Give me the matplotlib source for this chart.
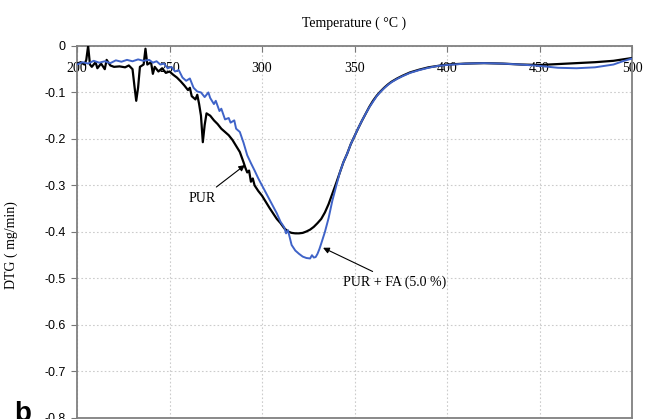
import matplotlib
matplotlib.use("Agg")
import matplotlib.pyplot as plt

# PUR (black)
pur_t = [200, 202, 204, 205, 206, 207, 208, 210, 211, 213, 215, 216, 218, 220, 223, 226, 228,
         230, 231, 232, 233, 234, 236, 237, 238, 240, 241, 242, 244, 246, 248, 250, 252, 254,
         256, 258, 260, 261, 262, 264, 265, 266, 267, 268, 269, 270, 272, 274, 276, 278, 280,
         282, 284, 286, 288, 290, 291, 292, 293, 294, 295, 296, 298, 300, 302, 304, 306, 308,
         310, 312, 314, 316, 318, 320, 322, 324, 326, 328, 330, 332, 334, 336, 338, 340, 342,
         344, 346, 348, 350, 352, 354, 356, 358, 360, 362, 364, 366, 368, 370, 373, 376, 380,
         385, 390, 395, 400, 410, 420, 430, 440, 450, 460, 470, 480, 490, 495, 500]
pur_dtg = [-0.038, -0.035, -0.040, -0.030, 0.000, -0.040, -0.045, -0.035, -0.048, -0.038, -0.050,
           -0.030, -0.042, -0.045, -0.044, -0.046, -0.042, -0.050, -0.085, -0.118, -0.090, -0.045,
           -0.040, -0.006, -0.040, -0.035, -0.060, -0.045, -0.055, -0.048, -0.058, -0.055, -0.062,
           -0.068, -0.076, -0.085, -0.095, -0.090, -0.108, -0.115, -0.105, -0.125, -0.150, -0.207,
           -0.170, -0.145, -0.150, -0.160, -0.168, -0.178, -0.185, -0.192, -0.202, -0.215, -0.228,
           -0.250, -0.262, -0.272, -0.268, -0.292, -0.285, -0.300, -0.312, -0.322, -0.335, -0.348,
           -0.360, -0.372, -0.381, -0.392, -0.399, -0.402, -0.403, -0.403, -0.402, -0.399, -0.395,
           -0.389, -0.381, -0.372, -0.358, -0.340, -0.318, -0.296, -0.273, -0.250, -0.232, -0.211,
           -0.194, -0.177, -0.161, -0.146, -0.131, -0.118, -0.107, -0.098, -0.090, -0.083, -0.077,
           -0.070, -0.064, -0.057, -0.051, -0.046, -0.043, -0.040, -0.038, -0.037, -0.038, -0.040,
           -0.041, -0.039, -0.037, -0.035, -0.032, -0.029, -0.026]

# PUR + FA (5.0 %) (blue)
fa_t = [200, 203, 206, 209, 212, 215, 218, 221, 224, 227, 230, 233, 236, 239, 241, 243, 245, 247,
        249, 251, 253, 255, 257, 259, 261, 263, 265, 267, 269, 271, 272, 274, 275, 277, 278, 280,
        282, 283, 285, 286, 288, 290, 292, 294, 296, 298, 300, 302, 304, 306, 308, 310, 312, 313,
        314, 316, 318, 320, 322, 324, 326, 327, 328, 329, 330, 331, 332, 334, 336, 338, 340,
        342, 344, 346, 348, 350, 352, 354, 356, 358, 360, 362, 364, 366, 368, 370, 373, 376, 380,
        385, 390, 395, 400, 410, 420, 430, 440, 450, 460, 470, 480, 490, 495, 500]
fa_dtg = [-0.040, -0.035, -0.038, -0.032, -0.036, -0.033, -0.037, -0.031, -0.034, -0.030, -0.033,
          -0.029, -0.032, -0.030, -0.036, -0.033, -0.040, -0.038, -0.048, -0.045, -0.055, -0.052,
          -0.068, -0.075, -0.070, -0.090, -0.098, -0.100, -0.110, -0.100, -0.112, -0.125, -0.118,
          -0.140, -0.135, -0.158, -0.155, -0.165, -0.160, -0.178, -0.185, -0.208, -0.235, -0.252,
          -0.268, -0.285, -0.300, -0.315, -0.330, -0.345, -0.360, -0.378, -0.390, -0.403, -0.396,
          -0.428, -0.440, -0.447, -0.453, -0.456, -0.457, -0.450, -0.455, -0.454, -0.447, -0.437,
          -0.425, -0.400, -0.370, -0.333, -0.303, -0.273, -0.250, -0.232, -0.211, -0.194,
          -0.177, -0.161, -0.146, -0.132, -0.120, -0.108, -0.099, -0.091, -0.084, -0.078, -0.071,
          -0.065, -0.058, -0.052, -0.047, -0.043, -0.041, -0.038, -0.037, -0.038, -0.040, -0.043,
          -0.047, -0.048, -0.046, -0.040, -0.033, -0.027]

x_ticks = [200, 250, 300, 350, 400, 450, 500]
y_ticks = [0, -0.1, -0.2, -0.3, -0.4, -0.5, -0.6, -0.7, -0.8]
y_labels = ['0', '-0.1', '-0.2', '-0.3', '-0.4', '-0.5', '-0.6', '-0.7', '-0.8']

serif = 'Liberation Serif'
sans = 'Liberation Sans'

fig = plt.figure(figsize=(6.5, 4.19), dpi=100)
ax = fig.add_axes([0.1185, 0.0024, 0.8538, 0.888])

ax.plot(pur_t, pur_dtg, color='black', lw=1.6, zorder=3)
ax.plot(fa_t, fa_dtg, color='#3f63c8', lw=1.4, zorder=4)

ax.set_xlim(200, 500)
ax.set_ylim(-0.8, 0)
ax.set_xticks(x_ticks)
ax.set_yticks(y_ticks)
ax.set_yticklabels(y_labels, fontfamily=sans, fontsize=9)

ax.tick_params(axis='x', top=True, labeltop=True, bottom=False, labelbottom=False,
               direction='in', length=4, pad=-21, color='#777777',
               labelfontfamily=serif, labelsize=10)
ax.tick_params(axis='y', direction='out', length=4, pad=4, color='#777777')

ax.grid(True, ls=(0, (1.5, 2)), color='#cccccc', lw=0.8)
for s in ax.spines.values():
    s.set_color('#808080')
    s.set_linewidth(1.3)

ax.set_title('Temperature ( °C )', fontfamily=serif, fontsize=10, pad=14)
ax.set_ylabel('DTG ( mg/min)', fontfamily=serif, fontsize=10)
ax.yaxis.set_label_coords(-0.106, 0.465)

arrow = dict(arrowstyle='-|>', color='black', lw=0.8, mutation_scale=9, shrinkA=2, shrinkB=0)
ax.annotate('PUR', xy=(290.8, -0.256), xytext=(267.6, -0.327), ha='center', va='center',
            fontfamily=serif, fontsize=10, arrowprops=arrow)
ax.annotate('PUR + FA (5.0 %)', xy=(333, -0.434), xytext=(371.9, -0.508), ha='center',
            va='center', fontfamily=serif, fontsize=10, arrowprops=arrow)

fig.text(14 / 650, -2 / 419, 'b', fontsize=20, fontweight='bold', fontfamily=sans,
         va='baseline')

fig.savefig('out.png', dpi=100)
